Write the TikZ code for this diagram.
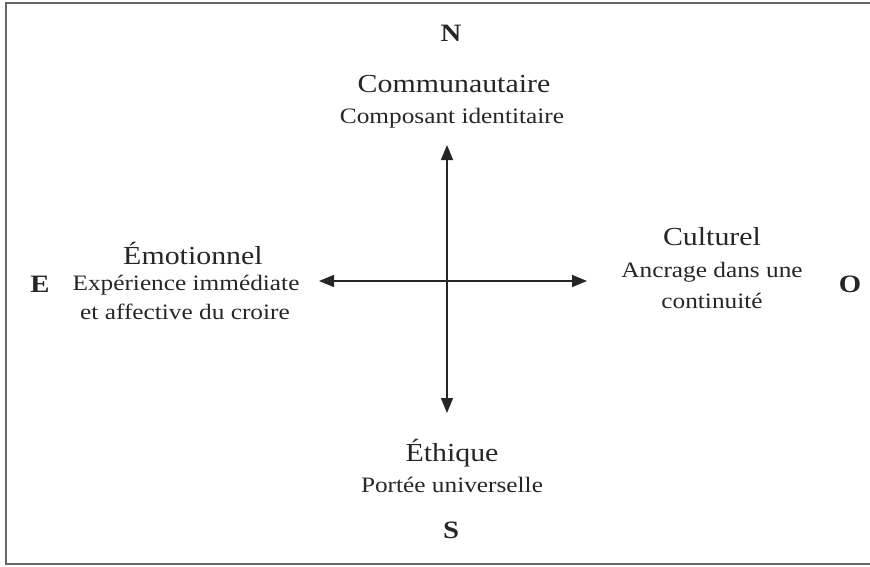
\documentclass[tikz,border=0pt]{standalone}
\usepackage{fontspec}
\setmainfont{Liberation Serif}[FakeStretch=1.15]
\usetikzlibrary{arrows.meta}
\tikzset{
  title/.style={anchor=base,inner sep=0pt,font=\fontsize{26}{26}\selectfont,text=black!85},
  sub/.style={anchor=base,inner sep=0pt,font=\fontsize{22}{22}\selectfont,text=black!85},
  pole/.style={anchor=base,inner sep=0pt,font=\fontsize{25}{25}\selectfont\bfseries,text=black!85},
  axis/.style={line width=1.4pt,black!85,{Triangle[length=15pt,width=12pt]}-{Triangle[length=15pt,width=12pt]}},
  frame/.style={line width=2.2pt,black!60}
}
\begin{document}
\begin{tikzpicture}[x=1pt,y=-1pt]
\useasboundingbox (0,0) rectangle (870,566);
\draw[frame] (6,3) rectangle (880,564);
% axes
\coordinate (top) at (447,145);
\coordinate (bot) at (447,413);
\coordinate (lft) at (319,281);
\coordinate (rgt) at (587,281);
\draw[axis] (top) -- (bot);
\draw[axis] (lft) -- (rgt);
% poles
\node[pole] (N) at (451,41) {N};
\node[pole] (S) at (451,538) {S};
\node[pole] (E) at (40,292) {E};
\node[pole] (O) at (850,292) {O};
% north
\node[title] (comm) at (454,92) {Communautaire};
\node[sub] (comp) at (452,123) {Composant identitaire};
% west (left)
\node[title] (emo) at (193,264) {Émotionnel};
\node[sub] (exp1) at (186,290) {Expérience immédiate};
\node[sub] (exp2) at (185,319) {et affective du croire};
% east (right)
\node[title] (cult) at (712,245) {Culturel};
\node[sub] (anc1) at (712,277) {Ancrage dans une};
\node[sub] (anc2) at (712,308) {continuité};
% south
\node[title] (eth) at (452,461) {Éthique};
\node[sub] (port) at (452,492) {Portée universelle};
\end{tikzpicture}
\end{document}
